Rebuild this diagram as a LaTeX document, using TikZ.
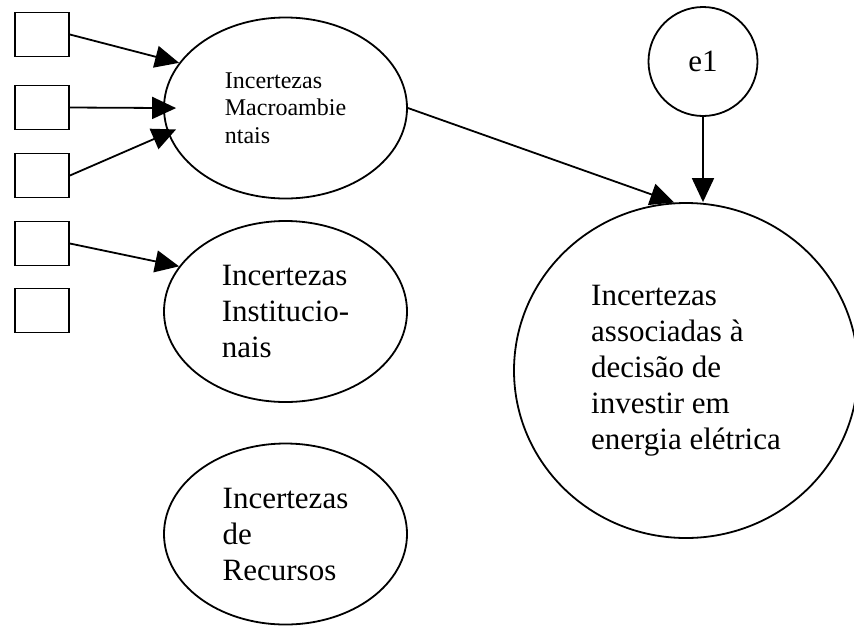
\documentclass[tikz,border=0pt]{standalone}
\usepackage{fontspec}
\setmainfont{Liberation Serif}
\usetikzlibrary{arrows.meta,shapes.geometric}
\begin{document}
\begin{tikzpicture}[x=1pt,y=-1pt,line width=1.8pt,
  >={Triangle[length=24pt,width=22pt]},
  box/.style={draw,rectangle,minimum width=54pt,minimum height=44pt,inner sep=0pt},
  construct/.style={draw,ellipse,minimum width=243pt,minimum height=181pt,inner sep=0pt,
    align=left,font=\fontsize{31}{36}\selectfont},
  small/.style={font=\fontsize{24}{27.5}\selectfont},
  reach/.style={shorten >=-#1}]
\useasboundingbox (0,0) rectangle (854,625);
% indicators
\foreach \i/\y in {1/34.5,2/107.5,3/175.5,4/243.5,5/310.5}
  \node[box] (b\i) at (42,\y) {};
% constructs
\node[construct,small] (macro) at (285.5,108) {Incertezas\\Macroambie\\ntais};
\node[construct] (inst) at (285.5,311.5) {Incertezas\\Institucio-\\nais};
\node[construct] (recur) at (285.5,534) {Incertezas\\de\\Recursos};
\node[construct,minimum width=344pt,minimum height=335pt] (invest) at (686,370.5)
  {Incertezas\\associadas à\\decisão de\\investir em\\energia elétrica};
\node[construct,circle,minimum size=109pt] (e1) at (703,61.5) {e1};
% arrows
\draw[->] (b1.east) -- (macro.157);
\draw[->,reach=13pt] (b2.east) -- (macro.west);
\draw[->,reach=9pt] (b3.east) -- (macro.192);
\draw[->] (b4.east) -- (inst.157);
\draw[->] (macro.east) -- (invest.94);
\draw[->] (e1.south) -- (e1.south |- invest.north);
\end{tikzpicture}
\end{document}
